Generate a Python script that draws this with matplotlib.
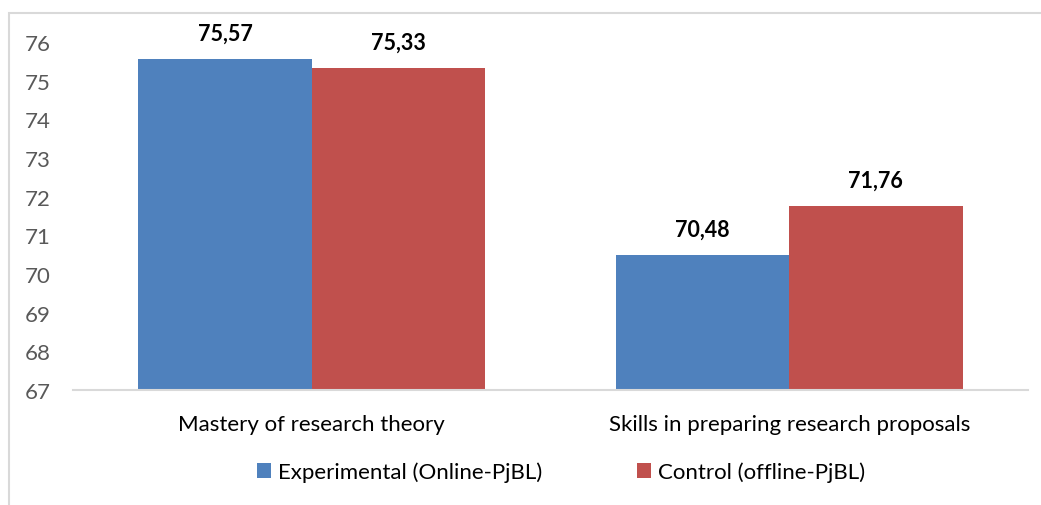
import numpy as np
import matplotlib.pyplot as plt
from matplotlib.patches import Rectangle

categories = ["Mastery of research theory", "Skills in preparing research proposals"]
experimental = [75.57, 70.48]
control = [75.33, 71.76]
series_names = ["Experimental (Online-PjBL)", "Control (offline-PjBL)"]
yticks = [67, 68, 69, 70, 71, 72, 73, 74, 75, 76]

plt.rcParams['font.family'] = ['Lato', 'DejaVu Sans']

fig = plt.figure(figsize=(10.41, 5.06), dpi=100)
# chart area border (top and left edges visible)
fig.patches.append(Rectangle((9/1041, -0.1), 1.2, 1 - 14/506 + 0.1, transform=fig.transFigure,
                             fill=False, edgecolor="#D9D9D9", linewidth=1.5))

ax = fig.add_axes([73/1041, 1 - 391/506, (1028 - 73)/1041, (391 - 43)/506])
x = np.arange(len(categories))
w = 0.363
b1 = ax.bar(x - w/2, np.array(experimental) - 67, w, bottom=67, color="#4F81BD", label=series_names[0])
b2 = ax.bar(x + w/2, np.array(control) - 67, w, bottom=67, color="#C0504D", label=series_names[1])

for bars, vals in [(b1, experimental), (b2, control)]:
    for r, v in zip(bars, vals):
        ax.annotate(f"{v:.2f}".replace(".", ","), (r.get_x() + r.get_width()/2, v),
                    xytext=(0, 11), textcoords="offset points", ha="center", va="bottom",
                    fontsize=15.5, fontweight="bold", color="black")

ax.set_ylim(67, 76)
ax.set_xlim(-0.5, 1.5)
ax.set_yticks(yticks)
ax.set_xticks(x)
ax.set_xticklabels(categories, fontsize=16, color="black")
ax.tick_params(axis="y", labelsize=16, labelcolor="#595959", length=0, pad=16)
ax.tick_params(axis="x", length=0, pad=17)
for s in ["top", "right", "left"]:
    ax.spines[s].set_visible(False)
ax.spines["bottom"].set_color("#D9D9D9")
ax.spines["bottom"].set_linewidth(1.5)

fig.legend(handles=[b1, b2], labels=series_names, loc="center", bbox_to_anchor=(0.539, 1 - 473/506),
           ncol=2, frameon=False, fontsize=16, handlelength=0.62, handleheight=0.62,
           handletextpad=0.3, columnspacing=4.3)

fig.savefig("out.png", dpi=100, facecolor="white")
